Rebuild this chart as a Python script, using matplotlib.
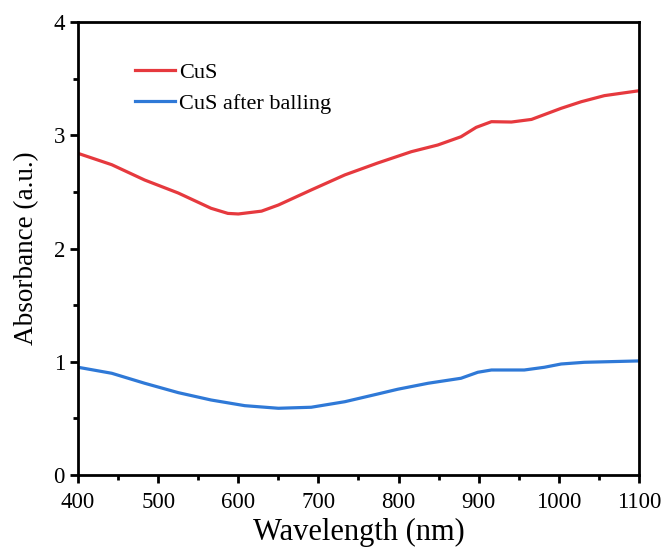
import matplotlib
matplotlib.use("Agg")
import matplotlib.pyplot as plt
from matplotlib.ticker import MultipleLocator

plt.rcParams['font.family'] = ['Liberation Serif', 'DejaVu Serif']

# wavelength (nm) and absorbance
wl = [400, 442, 483, 525, 566, 587, 600, 629, 650, 691, 733, 774, 816, 849,
      878, 897, 916, 941, 966, 1003, 1028, 1057, 1100]
cus = [2.84, 2.74, 2.605, 2.49, 2.355, 2.31, 2.305, 2.33, 2.384, 2.517, 2.65,
       2.755, 2.855, 2.914, 2.987, 3.07, 3.12, 3.117, 3.14, 3.238, 3.296, 3.35, 3.393]

wl_b = [400, 442, 483, 525, 566, 608, 650, 691, 733, 774, 799, 837, 878, 899,
        916, 957, 982, 1003, 1032, 1100]
cus_ball = [0.951, 0.898, 0.81, 0.727, 0.662, 0.612, 0.589, 0.598, 0.647, 0.715,
            0.757, 0.81, 0.854, 0.907, 0.927, 0.927, 0.951, 0.98, 0.995, 1.007]

fig = plt.figure(figsize=(6.62, 5.51), dpi=100)
ax = fig.add_axes([0.118, 0.138, 0.847, 0.822])

ax.plot(wl, cus, color='#e6393e', lw=2.3, label='CuS')
ax.plot(wl_b, cus_ball, color='#2f79d7', lw=2.3, label='CuS after balling')

ax.set_xlim(400, 1100)
ax.set_ylim(0, 4)
ax.xaxis.set_major_locator(MultipleLocator(100))
ax.xaxis.set_minor_locator(MultipleLocator(50))
ax.yaxis.set_major_locator(MultipleLocator(1))
ax.yaxis.set_minor_locator(MultipleLocator(0.5))
ax.tick_params(which='major', direction='out', length=6, width=2, labelsize=16.5)
ax.tick_params(axis='x', which='major', pad=6)
ax.tick_params(which='minor', direction='out', length=3.5, width=2)
for s in ax.spines.values():
    s.set_linewidth(2)

ax.set_xlabel('Wavelength (nm)', fontsize=22, labelpad=4)
ax.set_ylabel('Absorbance (a.u.)', fontsize=19.5, labelpad=10)

ax.legend(loc='upper left', bbox_to_anchor=(0.065, 0.955), frameon=False,
          fontsize=16, handlelength=1.8, labelspacing=0.45, handletextpad=0.2)

fig.savefig('out.png', dpi=100)
